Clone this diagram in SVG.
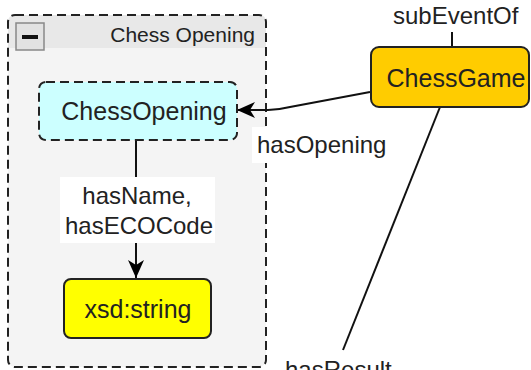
<svg xmlns="http://www.w3.org/2000/svg" width="531" height="370" viewBox="0 0 531 370">
  <defs>
    <style>
      text { font-family: "Liberation Sans", Arial, sans-serif; fill: #222; }
      .node-label { font-size: 25px; text-anchor: middle; }
      .edge-label { font-size: 24px; }
      .edge { fill: none; stroke: #111; stroke-width: 2; }
      .label-bg { fill: #ffffff; }
    </style>
    <marker id="arrow" viewBox="0 0 20 18" markerWidth="20" markerHeight="18" refX="19" refY="9" orient="auto" markerUnits="userSpaceOnUse">
      <path d="M19,9 L1,1 L6,9 L1,17 Z" fill="#000"/>
    </marker>
  </defs>

  <rect width="531" height="370" fill="#ffffff"/>

  <!-- group node: Chess Opening -->
  <g id="group-chess-opening">
    <rect x="8" y="15" width="258" height="352" rx="7" fill="#f4f4f4"/>
    <path d="M8,48 L8,22 Q8,15 15,15 L259,15 Q266,15 266,22 L266,48 Z" fill="#e8e8e8"/>
    <rect x="8" y="15" width="258" height="352" rx="7" fill="none" stroke="#222" stroke-width="2" stroke-dasharray="9,5"/>
    <rect x="16" y="23" width="28" height="27" fill="#e2e2e2" stroke="#888" stroke-width="1.5"/>
    <rect x="22" y="35" width="16" height="4" fill="#111"/>
    <text x="255" y="42" font-size="21" text-anchor="end">Chess Opening</text>
  </g>

  <!-- connectors -->
  <g id="connectors">
    <path class="edge" d="M370,92 L290,107 Q280,109.5 268,110 L237,110" marker-end="url(#arrow)"/>
    <line class="edge" x1="136" y1="140" x2="136" y2="177"/>
    <line class="edge" x1="136" y1="243" x2="136" y2="278" marker-end="url(#arrow)"/>
    <line class="edge" x1="452" y1="32" x2="452" y2="47"/>
    <line class="edge" x1="440" y1="107" x2="343" y2="350"/>

    <rect class="label-bg" x="252" y="127" width="138" height="36"/>
    <text class="edge-label" x="257" y="153">hasOpening</text>

    <rect class="label-bg" x="60" y="177" width="155" height="66"/>
    <text class="edge-label" x="137" y="204" text-anchor="middle">hasName,</text>
    <text class="edge-label" x="139" y="234" text-anchor="middle">hasECOCode</text>

    <text class="edge-label" x="393" y="24">subEventOf</text>
    <text class="edge-label" x="285" y="378">hasResult</text>
  </g>

  <!-- class node: ChessOpening -->
  <g id="node-chess-opening">
    <rect x="39" y="82" width="198" height="58" rx="7" fill="#ccffff" stroke="#222" stroke-width="2" stroke-dasharray="9,5"/>
    <text class="node-label" x="144" y="120">ChessOpening</text>
  </g>

  <!-- datatype node: xsd:string -->
  <g id="node-xsd-string">
    <rect x="64" y="279" width="147" height="59" rx="7" fill="#ffff00" stroke="#222" stroke-width="2"/>
    <text class="node-label" x="138" y="318">xsd:string</text>
  </g>

  <!-- class node: ChessGame -->
  <g id="node-chess-game">
    <rect x="371" y="47" width="158" height="60" rx="8" fill="#ffcc00" stroke="#222" stroke-width="2"/>
    <text class="node-label" x="456" y="87">ChessGame</text>
  </g>
</svg>
